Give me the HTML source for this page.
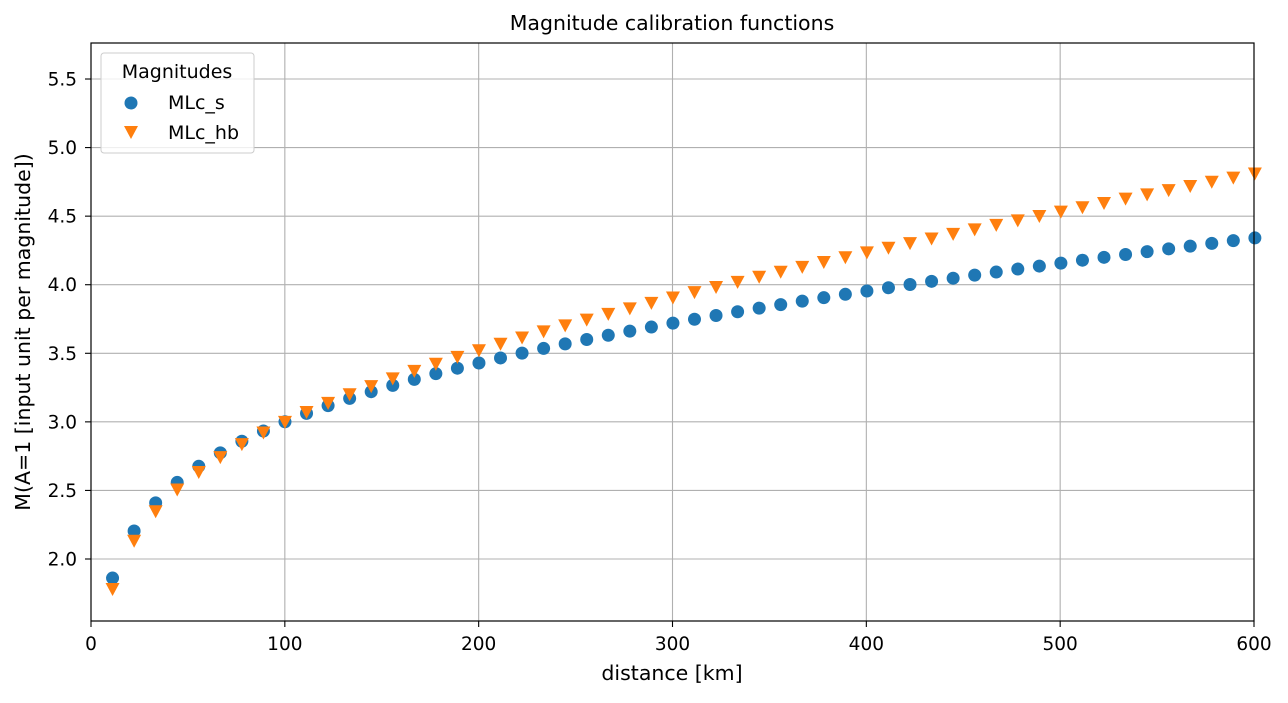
<!DOCTYPE html>
<html><head><meta charset="utf-8"><style>
body{margin:0;background:#fff;}
svg text{font-family:"DejaVu Sans","Liberation Sans",sans-serif;fill:#000;}
</style></head><body>
<svg id="s" width="1288" height="698" xmlns="http://www.w3.org/2000/svg">
<rect width="1288" height="698" fill="#fff"/>
<text x="672" y="30" font-size="20.5" text-anchor="middle">Magnitude calibration functions</text>
<g id="grid" stroke="#b0b0b0" stroke-width="1.1"></g>
<g id="pts"></g>
<rect x="91" y="43" width="1163" height="578" fill="none" stroke="#000" stroke-width="1.2"/>
<g id="ticks" font-size="18.5"></g>
<text x="672" y="680" font-size="20.5" text-anchor="middle">distance [km]</text>
<text transform="translate(30,332) rotate(-90)" font-size="20.5" text-anchor="middle">M(A=1 [input unit per magnitude])</text>
<g>
<rect x="101" y="53" width="153" height="100" rx="3" fill="#fff" fill-opacity="0.8" stroke="#ccc"/>
<text x="177" y="78" font-size="19" text-anchor="middle">Magnitudes</text>
<circle cx="131" cy="103" r="6.5" fill="#1f77b4"/>
<text x="168" y="109" font-size="19">MLc_s</text>
<polygon points="124,126 138,126 131,139" fill="#ff7f0e"/>
<text x="168" y="139" font-size="19">MLc_hb</text>
</g>
</svg>
<script>
var ns="http://www.w3.org/2000/svg";
function X(v){return 91+v*1163/600;}
function Y(v){return 559-(v-2)*137.14;}
function el(p,t,a){var e=document.createElementNS(ns,t);for(var k in a)e.setAttribute(k,a[k]);p.appendChild(e);return e;}
var g=document.getElementById("grid"),tk=document.getElementById("ticks"),pts=document.getElementById("pts");
for(var x=0;x<=600;x+=100){ if(x>0&&x<600) el(g,"line",{x1:X(x),x2:X(x),y1:43,y2:621});
 el(tk,"line",{x1:X(x),x2:X(x),y1:621,y2:627,stroke:"#000","stroke-width":1.1});
 var t=el(tk,"text",{x:X(x),y:650,"text-anchor":"middle"});t.textContent=x;}
for(var v=2;v<=5.51;v+=0.5){ el(g,"line",{x1:91,x2:1254,y1:Y(v),y2:Y(v)});
 el(tk,"line",{x1:85,x2:91,y1:Y(v),y2:Y(v),stroke:"#000","stroke-width":1.1});
 var t=el(tk,"text",{x:77,y:Y(v)+6.5,"text-anchor":"end"});t.textContent=v.toFixed(1);}
for(var i=1;i<=54;i++){var r=i*11.1195;
 var a=1.1046*Math.log10(r)+0.000961*r+0.695;
 el(pts,"circle",{cx:X(r),cy:Y(a),r:6.5,fill:"#1f77b4"});}
for(var i=1;i<=54;i++){var r=i*11.1195;
 var b=1.10*Math.log10(r)+0.001908*r+0.609;var cx=X(r),cy=Y(b);
 el(pts,"polygon",{points:(cx-7)+","+(cy-6)+" "+(cx+7)+","+(cy-6)+" "+cx+","+(cy+7),fill:"#ff7f0e"});}
</script>
</body></html>
